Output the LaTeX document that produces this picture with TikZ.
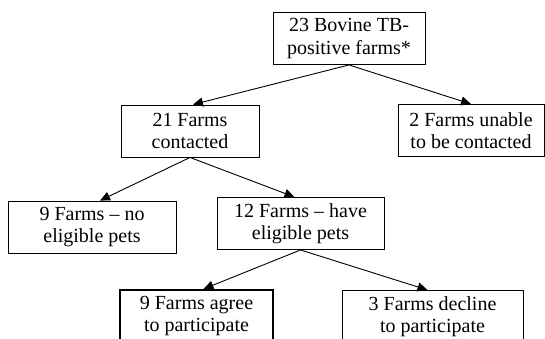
\documentclass[tikz,border=0pt]{standalone}
\usepackage{fontspec}
\setmainfont{Liberation Serif}
\usetikzlibrary{arrows.meta}

\begin{document}
\begin{tikzpicture}[x=1pt,y=1pt,>={Triangle[length=10pt,width=9pt]},
  every node/.style={font=\fontsize{20}{22.5}\selectfont},
  box/.style={draw,line width=0.9pt,rectangle,align=center,inner sep=0pt,minimum height=52pt}]
\useasboundingbox (0,0) rectangle (545,-339);
\node[box,minimum width=152pt] (tb) at (349,-38.5) {23 Bovine TB-\\positive farms*};
\node[box,minimum width=138pt] (cont) at (190,-131) {21 Farms\\contacted};
\node[box,minimum width=146pt] (unable) at (471,-130.5) {2 Farms unable\\to be contacted};
\node[box,minimum width=168pt] (nopets) at (92,-227) {9 Farms -- no\\eligible pets};
\node[box,minimum width=167pt] (pets) at (300.5,-223.5) {12 Farms -- have\\eligible pets};
\node[box,minimum width=153pt,line width=2.2pt,anchor=north] (agree) at (196.5,-289) {9 Farms agree\\to participate};
\node[box,minimum width=181pt,anchor=north] (decline) at (432.5,-290) {3 Farms decline\\to participate};
\draw[->,line width=0.9pt] (tb.south) -- ([xshift=3pt]cont.north);
\draw[->,line width=0.9pt] (tb.south) -- (unable.north);
\draw[->,line width=0.9pt] (cont.south) -- ([xshift=8pt]nopets.north);
\draw[->,line width=0.9pt] (cont.south) -- ([xshift=-6pt]pets.north);
\draw[->,line width=0.9pt] (pets.south) -- ([xshift=7pt]agree.north);
\draw[->,line width=0.9pt] (pets.south) -- ([xshift=-5pt]decline.north);
\end{tikzpicture}
\end{document}
